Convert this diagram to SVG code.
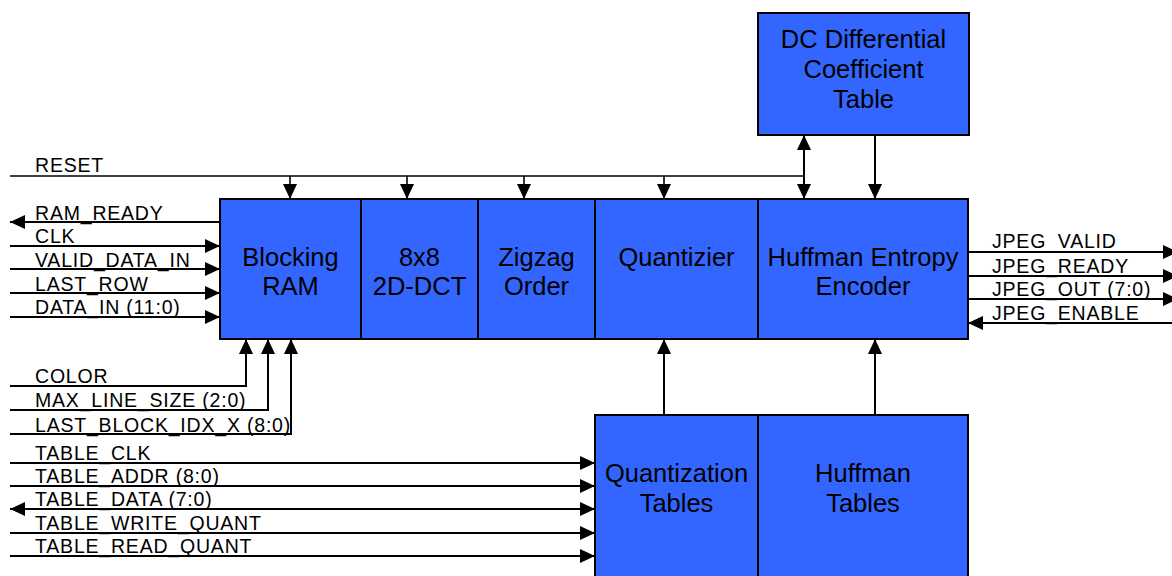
<svg xmlns="http://www.w3.org/2000/svg" width="1172" height="576" viewBox="0 0 1172 576">
<style>
.blk{fill:#3366FF;stroke:#000;stroke-width:2}
.bt{font-family:"Liberation Sans",Arial,sans-serif;font-size:25.5px;fill:#000;text-anchor:middle}
.lb{font-family:"Liberation Sans",Arial,sans-serif;font-size:19.5px;letter-spacing:0.8px;fill:#000}
.w{fill:none;stroke:#000;stroke-width:2}
.t{fill:none;stroke:#000;stroke-width:1.6}
</style>
<defs>
<marker id="arr" markerUnits="userSpaceOnUse" markerWidth="15" markerHeight="14" refX="15" refY="7" orient="auto-start-reverse" viewBox="0 0 15 14">
<path d="M0,0 L15,7 L0,14 z" fill="#000"/>
</marker>
</defs>
<rect width="1172" height="576" fill="#fff"/>

<g id="connectors">
<path class="t" d="M10,176 H804"/>
<path class="t" d="M290,176 V199" marker-end="url(#arr)"/>
<path class="t" d="M407,176 V199" marker-end="url(#arr)"/>
<path class="t" d="M524,176 V199" marker-end="url(#arr)"/>
<path class="t" d="M664,176 V199" marker-end="url(#arr)"/>
<path class="w" d="M804,135 V199" marker-start="url(#arr)" marker-end="url(#arr)"/>
<path class="w" d="M875,135 V199" marker-end="url(#arr)"/>
<path class="w" d="M220,222 H10" marker-end="url(#arr)"/>
<path class="w" d="M10,246 H220" marker-end="url(#arr)"/>
<path class="w" d="M10,269 H220" marker-end="url(#arr)"/>
<path class="w" d="M10,293 H220" marker-end="url(#arr)"/>
<path class="w" d="M10,317 H220" marker-end="url(#arr)"/>
<path class="w" d="M10,386 H246 V339" marker-end="url(#arr)"/>
<path class="w" d="M10,410 H268 V339" marker-end="url(#arr)"/>
<path class="w" d="M10,434 H291 V339" marker-end="url(#arr)"/>
<path class="w" d="M10,463 H595" marker-end="url(#arr)"/>
<path class="w" d="M10,486 H595" marker-end="url(#arr)"/>
<path class="w" d="M10,509 H595" marker-start="url(#arr)" marker-end="url(#arr)"/>
<path class="w" d="M10,533 H595" marker-end="url(#arr)"/>
<path class="w" d="M10,556 H595" marker-end="url(#arr)"/>
<path class="w" d="M664,415 V339" marker-end="url(#arr)"/>
<path class="w" d="M875,415 V339" marker-end="url(#arr)"/>
<path class="w" d="M968,252 H1178" marker-end="url(#arr)"/>
<path class="w" d="M968,276 H1178" marker-end="url(#arr)"/>
<path class="w" d="M968,299 H1178" marker-end="url(#arr)"/>
<path class="w" d="M1172,323 H968" marker-end="url(#arr)"/>
</g>

<g id="labels">
<text class="lb" x="35" y="172">RESET</text>
<text class="lb" x="35" y="220">RAM_READY</text>
<text class="lb" x="35" y="243">CLK</text>
<text class="lb" x="35" y="266.5">VALID_DATA_IN</text>
<text class="lb" x="35" y="290.5">LAST_ROW</text>
<text class="lb" x="35" y="314">DATA_IN (11:0)</text>
<text class="lb" x="35" y="383">COLOR</text>
<text class="lb" x="35" y="407">MAX_LINE_SIZE (2:0)</text>
<text class="lb" x="35" y="431.5">LAST_BLOCK_IDX_X (8:0)</text>
<text class="lb" x="35" y="459.5">TABLE_CLK</text>
<text class="lb" x="35" y="482.5">TABLE_ADDR (8:0)</text>
<text class="lb" x="35" y="506">TABLE_DATA (7:0)</text>
<text class="lb" x="35" y="530">TABLE_WRITE_QUANT</text>
<text class="lb" x="35" y="553">TABLE_READ_QUANT</text>
<text class="lb" x="992" y="248">JPEG_VALID</text>
<text class="lb" x="992" y="273">JPEG_READY</text>
<text class="lb" x="992" y="296">JPEG_OUT (7:0)</text>
<text class="lb" x="992" y="320">JPEG_ENABLE</text>
</g>

<g id="dc-table">
<rect class="blk" x="758" y="13" width="211" height="122"/>
<text class="bt" x="863.5" y="48">DC Differential</text>
<text class="bt" x="863.5" y="78">Coefficient</text>
<text class="bt" x="863.5" y="108">Table</text>
</g>
<g id="blocking-ram">
<rect class="blk" x="220" y="199" width="141" height="140"/>
<text class="bt" x="290.5" y="266">Blocking</text>
<text class="bt" x="290.5" y="295">RAM</text>
</g>
<g id="dct">
<rect class="blk" x="361" y="199" width="117" height="140"/>
<text class="bt" x="419.5" y="266">8x8</text>
<text class="bt" x="419.5" y="295">2D-DCT</text>
</g>
<g id="zigzag">
<rect class="blk" x="478" y="199" width="117" height="140"/>
<text class="bt" x="536.5" y="266">Zigzag</text>
<text class="bt" x="536.5" y="295">Order</text>
</g>
<g id="quantizier">
<rect class="blk" x="595" y="199" width="163" height="140"/>
<text class="bt" x="676.5" y="266">Quantizier</text>
</g>
<g id="huffman-encoder">
<rect class="blk" x="758" y="199" width="210" height="140"/>
<text class="bt" x="863" y="266">Huffman Entropy</text>
<text class="bt" x="863" y="295">Encoder</text>
</g>
<g id="quant-tables">
<rect class="blk" x="595" y="415" width="163" height="175"/>
<text class="bt" x="676.5" y="482">Quantization</text>
<text class="bt" x="676.5" y="512">Tables</text>
</g>
<g id="huffman-tables">
<rect class="blk" x="758" y="415" width="210" height="175"/>
<text class="bt" x="863" y="482">Huffman</text>
<text class="bt" x="863" y="512">Tables</text>
</g>
</svg>
